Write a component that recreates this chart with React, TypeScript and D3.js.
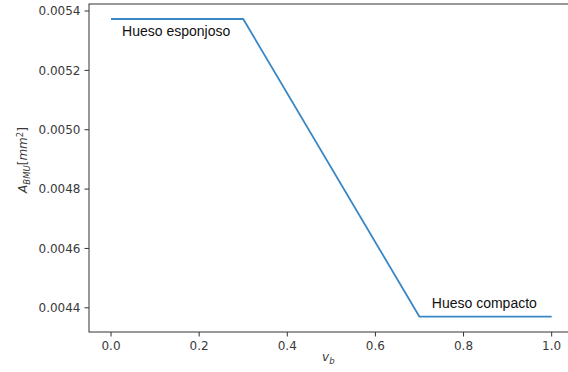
import React from "react";
import * as d3 from "d3";

const vb = [0.0, 0.3, 0.7, 1.0];
const area = [0.005373, 0.005373, 0.00437, 0.00437];
const xTicks = [0.0, 0.2, 0.4, 0.6, 0.8, 1.0];
const yTicks = [0.0044, 0.0046, 0.0048, 0.005, 0.0052, 0.0054];
const labels = ["Hueso esponjoso", "Hueso compacto"];
const labelX = [0.025, 0.728];
const labelY = [0.005316, 0.0044];

const W = 568, H = 372;
const m = { left: 89, top: 4, right: 573.7, bottom: 332 };

export default function App() {
  const x = d3.scaleLinear().domain([-0.05, 1.05]).range([m.left, m.right]);
  const y = d3.scaleLinear().domain([0.0043185, 0.0054236]).range([m.bottom, m.top]);
  const line = d3.line<number>().x((_, i) => x(vb[i])).y((d) => y(d));
  const tickFont = "'DejaVu Sans', sans-serif";
  return (
    <svg width={W} height={H} style={{ position: "absolute", left: 0, top: 0, background: "#fff" }}>
      <path d={line(area) || ""} fill="none" stroke="#3a87c4" strokeWidth={1.8} strokeLinejoin="round" />
      <rect x={m.left} y={m.top} width={m.right - m.left} height={m.bottom - m.top} fill="none" stroke="#333" strokeWidth={1} />
      {xTicks.map((t) => (
        <g key={"x" + t}>
          <line x1={x(t)} x2={x(t)} y1={m.bottom} y2={m.bottom + 4.5} stroke="#333" />
          <text x={x(t)} y={m.bottom + 18} textAnchor="middle" fontFamily={tickFont} fontSize={12} fill="#3a3a3a">
            {d3.format(".1f")(t)}
          </text>
        </g>
      ))}
      {yTicks.map((t) => (
        <g key={"y" + t}>
          <line x1={m.left - 4.5} x2={m.left} y1={y(t)} y2={y(t)} stroke="#333" />
          <text x={m.left - 8.5} y={y(t) + 4.3} textAnchor="end" fontFamily={tickFont} fontSize={12} fill="#3a3a3a">
            {d3.format(".4f")(t)}
          </text>
        </g>
      ))}
      {labels.map((l, i) => (
        <text key={l} x={x(labelX[i])} y={y(labelY[i])} fontFamily="'Liberation Sans', Arial, sans-serif" fontSize={14} fill="#111">
          {l}
        </text>
      ))}
      <text x={(m.left + m.right) / 2 - 3} y={361} textAnchor="middle" fontFamily={tickFont} fontSize={12} fill="#3a3a3a" fontStyle="italic">
        v<tspan fontSize={8.5} dy={2.5}>b</tspan>
      </text>
      <text transform={`translate(27,${(m.top + m.bottom) / 2 - 8}) rotate(-90)`} textAnchor="middle" fontFamily={tickFont} fontSize={12} fill="#3a3a3a">
        <tspan fontStyle="italic">A</tspan>
        <tspan fontStyle="italic" fontSize={8.5} dy={2.5}>BMU</tspan>
        <tspan dy={-2.5}>[</tspan>
        <tspan fontStyle="italic">mm</tspan>
        <tspan fontSize={8.5} dy={-4.5}>2</tspan>
        <tspan dy={4.5}>]</tspan>
      </text>
    </svg>
  );
}
